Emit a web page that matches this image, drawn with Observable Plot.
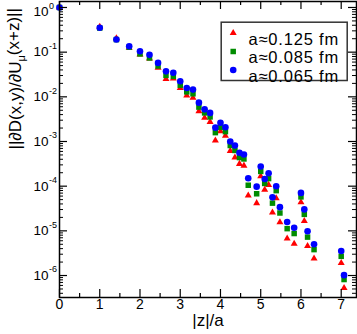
<!DOCTYPE html>
<html><head><meta charset="utf-8">
<script src="https://cdn.jsdelivr.net/npm/d3@7"></script>
<script src="https://cdn.jsdelivr.net/npm/@observablehq/plot@0.6"></script>
<style>body{margin:0;background:#fff} svg{display:block} .legtext text{letter-spacing:0.8px}</style>
</head><body><div id="chart"></div>
<script>
// |z|/a positions
const z = [0, 1, 1.414, 1.732, 2, 2.236, 2.449, 2.646, 2.828, 3, 3.162, 3.317, 3.464, 3.606, 3.742, 3.873, 4, 4.123, 4.243, 4.359, 4.472, 4.583, 4.690, 4.899, 5, 5.099, 5.196, 5.292, 5.385, 5.477, 5.657, 5.831, 6, 6.083, 6.164, 6.325, 7, 7.071];
// a≈0.125 fm (red triangles)
const valA125 = [1, 0.372, 0.204, 0.126, 0.0891, 0.0724, 0.0447, 0.0251, 0.0257, 0.0158, 0.0107, 0.00955, 0.00479, 0.00339, 0.00275, 0.00105, 0.00170, 0.00135, 0.000617, 0.000437, 0.000316, 0.000288, 0.0000617, 0.0000417, 0.000166, 0.0000832, 0.000107, 0.0000257, 0.0000537, 0.0000155, 0.00000676, 0.00000513, 0.0000437, 0.0000166, 0.00000457, 0.0000024, 0.00000191, 0.000000525];
// a≈0.085 fm (green squares)
const valA085 = [1, 0.347, 0.191, 0.129, 0.0912, 0.0741, 0.0490, 0.0302, 0.0288, 0.0182, 0.0129, 0.0117, 0.00589, 0.00437, 0.00355, 0.00158, 0.00209, 0.00166, 0.000813, 0.000631, 0.000437, 0.000407, 0.000105, 0.0000676, 0.000214, 0.000115, 0.000148, 0.0000417, 0.0000794, 0.0000251, 0.0000112, 0.00000871, 0.0000575, 0.0000234, 0.00000724, 0.0000038, 0.00000269, 0.000000813];
// a≈0.065 fm (blue circles)
const valA065 = [1, 0.351, 0.192, 0.136, 0.105, 0.0871, 0.0575, 0.0372, 0.0347, 0.0224, 0.0158, 0.0145, 0.00741, 0.00525, 0.00437, 0.00204, 0.00263, 0.00209, 0.00100, 0.000813, 0.000562, 0.000513, 0.000151, 0.0000977, 0.000275, 0.000145, 0.000195, 0.0000562, 0.000100, 0.0000339, 0.0000158, 0.0000117, 0.0000708, 0.0000302, 0.00000977, 0.00000501, 0.00000355, 0.00000102];

const seriesLabels = ["a≈0.125 fm", "a≈0.085 fm", "a≈0.065 fm"];
const seriesValues = [valA125, valA085, valA065];
const seriesSymbols = ["triangle", "square", "circle"];
const seriesColors = ["#ff0000", "#008c00", "#0000ff"];
const seriesR = [2.6, 3.1, 3.3];

const xMajor = [0, 1, 2, 3, 4, 5, 6, 7];
const xMinor = [0.5, 1.5, 2.5, 3.5, 4.5, 5.5, 6.5];
const yMajor = [1, 1e-1, 1e-2, 1e-3, 1e-4, 1e-5, 1e-6];
const yExponents = ["0", "-1", "-2", "-3", "-4", "-5", "-6"];
const yMinor = [];
for (let e = -7; e <= -1; e++) for (let k = 2; k <= 9; k++) { const v = k * Math.pow(10, e); if (v > 3.3e-7) yMinor.push(v); }

const xLabel = "|z|/a";
const yLabelParts = ["||∂D(x,y)/∂U", "μ", "(x+z)||"];

const W = 357, H = 334;
const mL = 59, mR = 1, mT = 1, mB = 37;
const fw = W - mL - mR, fh = H - mT - mB;
const font = "Liberation Sans, Arial, Helvetica, sans-serif";

const marks = [];
// data: red, then green, then blue on top
seriesValues.forEach((vals, s) => {
  const rows = z.map((zz, i) => ({z: zz, v: vals[i]}));
  marks.push(Plot.dot(rows, {x: "z", y: "v", symbol: () => seriesSymbols[s], fill: seriesColors[s], stroke: "none", r: seriesR[s]}));
});
// ticks (inward) on all four sides
marks.push(
  Plot.tickX(xMajor, {x: d => d, insetTop: fh - 8, stroke: "black", strokeWidth: 1.2}),
  Plot.tickX(xMajor, {x: d => d, insetBottom: fh - 8, stroke: "black", strokeWidth: 1.2}),
  Plot.tickX(xMinor, {x: d => d, insetTop: fh - 4, stroke: "black", strokeWidth: 1.2}),
  Plot.tickX(xMinor, {x: d => d, insetBottom: fh - 4, stroke: "black", strokeWidth: 1.2}),
  Plot.tickY(yMajor, {y: d => d, insetRight: fw - 8, stroke: "black", strokeWidth: 1.2}),
  Plot.tickY(yMajor, {y: d => d, insetLeft: fw - 8, stroke: "black", strokeWidth: 1.2}),
  Plot.tickY(yMinor, {y: d => d, insetRight: fw - 4, stroke: "black", strokeWidth: 1}),
  Plot.tickY(yMinor, {y: d => d, insetLeft: fw - 4, stroke: "black", strokeWidth: 1}),
  Plot.frame({stroke: "black", strokeWidth: 1.5})
);
// tick labels (the top one sits a little lower, as in the original)
const topShift = (d, i) => i === 0;
const rest = (d, i) => i !== 0;
marks.push(
  Plot.text(xMajor, {x: d => d, text: d => String(d), frameAnchor: "bottom", dy: 11, fontSize: 14, fill: "black"}),
  Plot.text(yMajor, {filter: rest, y: d => d, text: () => "10", frameAnchor: "left", textAnchor: "end", dx: -11, fontSize: 13.5, fill: "black"}),
  Plot.text(yMajor, {filter: rest, y: d => d, text: (d, i) => yExponents[i], frameAnchor: "left", textAnchor: "start", dx: -10.5, dy: -6, fontSize: 9, fill: "black"}),
  Plot.text(yMajor, {filter: topShift, y: d => d, text: () => "10", frameAnchor: "left", textAnchor: "end", dx: -11, dy: 4.5, fontSize: 13.5, fill: "black"}),
  Plot.text(yMajor, {filter: topShift, y: d => d, text: (d, i) => yExponents[i], frameAnchor: "left", textAnchor: "start", dx: -10.5, dy: -1.5, fontSize: 9, fill: "black"}),
  Plot.text([xLabel], {frameAnchor: "bottom", dy: 28.5, fontSize: 17, fill: "black"}),
  Plot.text([yLabelParts.join("")], {frameAnchor: "left", dx: -44, rotate: -90, fontSize: 17, fill: "black", className: "ylab"})
);
// legend
marks.push(Plot.frame({insetLeft: 161.7, insetTop: 20.7, insetRight: 9.3, insetBottom: fh - 79, stroke: "#333", strokeWidth: 1.5}));
seriesLabels.forEach((lab, s) => {
  const dy = 31.5 + s * 18.5;
  marks.push(Plot.dot([lab], {frameAnchor: "top-left", dx: 173.7, dy, symbol: () => seriesSymbols[s], fill: seriesColors[s], stroke: "none", r: seriesR[s]}));
  marks.push(Plot.text([lab], {frameAnchor: "top-left", dx: 189, dy, textAnchor: "start", fontSize: 16.5, fill: "black", className: "legtext"}));
});

const svg = Plot.plot({
  width: W, height: H,
  marginLeft: mL, marginRight: mR, marginTop: mT, marginBottom: mB,
  style: {fontFamily: font, background: "white", color: "black"},
  x: {domain: [0, 7.38], axis: null},
  y: {type: "log", domain: [Math.pow(10, -6.492), Math.pow(10, 0.134)], axis: null},
  marks
});
// subscript μ in y label
const t = d3.select(svg).select("g.ylab text");
t.text(null);
t.append("tspan").text(yLabelParts[0]);
t.append("tspan").attr("dy", "0.35em").attr("font-size", 11).text(yLabelParts[1]);
t.append("tspan").attr("dy", "-0.35em").text(yLabelParts[2]);
document.getElementById("chart").appendChild(svg);
</script>
</body></html>
